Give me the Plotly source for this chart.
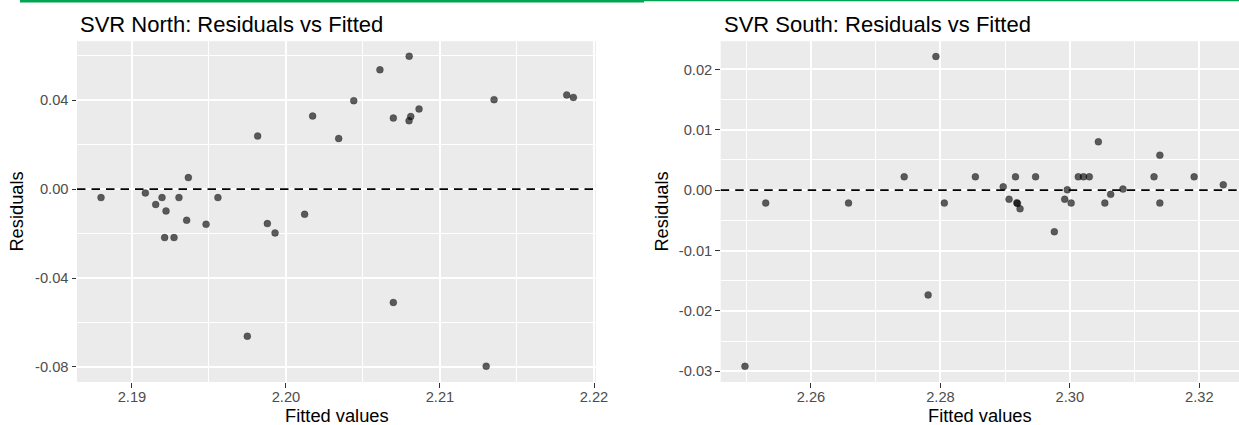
import plotly.graph_objects as go

W, H = 1239, 425

# ---- data ----
north_fitted = [2.18799, 2.19087, 2.19154, 2.19195, 2.19221, 2.19305, 2.19366, 2.19558,
                2.19355, 2.19481, 2.19212, 2.19273, 2.19816, 2.19749, 2.19879, 2.19929,
                2.20121, 2.20173, 2.20342, 2.20440, 2.20610, 2.20800, 2.20697, 2.20810,
                2.20799, 2.20864, 2.20697, 2.21300, 2.21351, 2.21823, 2.21866]
north_resid = [-0.0038, -0.0017, -0.0069, -0.0038, -0.0098, -0.0038, 0.0052, -0.0038,
               -0.0140, -0.0158, -0.0218, -0.0218, 0.0239, -0.0662, -0.0155, -0.0197,
               -0.0113, 0.0329, 0.0228, 0.0398, 0.0537, 0.0598, 0.0320, 0.0327,
               0.0308, 0.0361, -0.0510, -0.0797, 0.0403, 0.0424, 0.0413]

south_fitted = [2.2498, 2.2530, 2.2658, 2.2744, 2.2781, 2.2793, 2.2806, 2.2854,
                2.2897, 2.2906, 2.2916, 2.2918, 2.2919, 2.2923, 2.2947, 2.2976,
                2.2992, 2.2996, 2.3002, 2.3013, 2.3021, 2.3030, 2.3044, 2.3054,
                2.3063, 2.3082, 2.3130, 2.3139, 2.3139, 2.3192, 2.3237]
south_resid = [-0.0292, -0.00215, -0.00215, 0.0022, -0.01736, 0.02215, -0.00215, 0.0022,
               0.00055, -0.0015, 0.0022, -0.0021, -0.0022, -0.0031, 0.0022, -0.0069,
               -0.0015, 0.00005, -0.00215, 0.0022, 0.0022, 0.0022, 0.0080, -0.00215,
               -0.0007, 0.00017, 0.0022, 0.0058, -0.00215, 0.0022, 0.00088]

north_xticks = [2.19, 2.20, 2.21, 2.22]
north_xlabels = ["2.19", "2.20", "2.21", "2.22"]
north_yticks = [-0.08, -0.04, 0.00, 0.04]
north_ylabels = ["-0.08", "-0.04", "0.00", "0.04"]
south_xticks = [2.26, 2.28, 2.30, 2.32]
south_xlabels = ["2.26", "2.28", "2.30", "2.32"]
south_yticks = [-0.03, -0.02, -0.01, 0.00, 0.01, 0.02]
south_ylabels = ["-0.03", "-0.02", "-0.01", "0.00", "0.01", "0.02"]

titles = ["SVR North: Residuals vs Fitted", "SVR South: Residuals vs Fitted"]
x_title = "Fitted values"
y_title = "Residuals"

# ---- styling ----
FONT = "Liberation Sans, Arial, Helvetica, sans-serif"
PANEL = "#EBEBEB"
TICKFONT = dict(family=FONT, size=14.7, color="#4D4D4D")

def px_x(p):
    return p / W

def px_y(p):
    return 1 - p / H

marker = dict(size=7, color="rgba(0,0,0,0.62)", line=dict(width=0.6, color="rgba(0,0,0,0.35)"))

fig = go.Figure()
fig.add_trace(go.Scatter(x=north_fitted, y=north_resid, mode="markers", marker=marker,
                         xaxis="x", yaxis="y", showlegend=False, hoverinfo="skip"))
fig.add_trace(go.Scatter(x=south_fitted, y=south_resid, mode="markers", marker=marker,
                         xaxis="x2", yaxis="y2", showlegend=False, hoverinfo="skip"))

def axis(dom, rng, tv, tt, minor_dtick, minor_tick0, anchor, standoff):
    return dict(domain=dom, range=rng, tickvals=tv, ticktext=tt, tickfont=TICKFONT,
                ticks="outside", ticklen=4.5, tickwidth=1.4, tickcolor="#333333",
                ticklabelstandoff=standoff,
                showgrid=True, gridcolor="white", gridwidth=1.9, zeroline=False,
                showline=False, anchor=anchor, automargin=False,
                minor=dict(dtick=minor_dtick, tick0=minor_tick0, showgrid=True,
                           gridcolor="white", gridwidth=0.9, ticks=""))

L0, L1 = 77, 596
R0, R1 = 720.7, 1239
T, B = 41.2, 382.0
ydom = [px_y(B), px_y(T)]

fig.update_layout(
    width=W, height=H, margin=dict(l=0, r=0, t=0, b=0, autoexpand=False),
    paper_bgcolor="white", plot_bgcolor=PANEL,
    xaxis=axis([px_x(L0), px_x(L1)], [2.18643, 2.22013], north_xticks, north_xlabels,
               0.01, 2.185, "y", -3),
    yaxis=axis(ydom, [-0.0868, 0.0666], north_yticks, north_ylabels, 0.04, -0.06, "x", 0),
    xaxis2=axis([px_x(R0), px_x(R1)], [2.24605, 2.32613], south_xticks, south_xlabels,
                0.02, 2.25, "y2", -3),
    yaxis2=axis(ydom, [-0.03179, 0.02468], south_yticks, south_ylabels, 0.01, -0.035, "x2", 0),
)

shapes = []
for xr, yr in (("x", "y"), ("x2", "y2")):
    shapes.append(dict(type="line", xref=f"{xr} domain", yref=yr, x0=0, x1=1, y0=0, y1=0,
                       line=dict(color="black", width=1.6, dash="8.5px,6px")))
# green strip along the top edge
shapes.append(dict(type="rect", xref="paper", yref="paper", x0=px_x(20), x1=px_x(644),
                   y0=px_y(2.5), y1=1, fillcolor="#00A651", line=dict(width=0), layer="above"))
shapes.append(dict(type="rect", xref="paper", yref="paper", x0=px_x(644), x1=1,
                   y0=px_y(1.2), y1=1, fillcolor="#00A651", line=dict(width=0), layer="above"))
fig.update_layout(shapes=shapes)

ann = []
for t, x0 in zip(titles, (L0 + 1, R0 + 1)):
    ann.append(dict(text=t, x=px_x(x0), y=px_y(24), xref="paper", yref="paper",
                    xanchor="left", yanchor="middle", showarrow=False,
                    font=dict(family=FONT, size=22, color="black")))
for cx in ((L0 + L1) / 2, (R0 + R1) / 2):
    ann.append(dict(text=x_title, x=px_x(cx), y=px_y(415), xref="paper", yref="paper",
                    xanchor="center", yanchor="middle", showarrow=False,
                    font=dict(family=FONT, size=18.3, color="black")))
for cx in (17, 662):
    ann.append(dict(text=y_title, x=px_x(cx), y=px_y((T + B) / 2), xref="paper", yref="paper",
                    xanchor="center", yanchor="middle", showarrow=False, textangle=-90,
                    font=dict(family=FONT, size=18.3, color="black")))
fig.update_layout(annotations=ann)

fig.write_html("out.html")
